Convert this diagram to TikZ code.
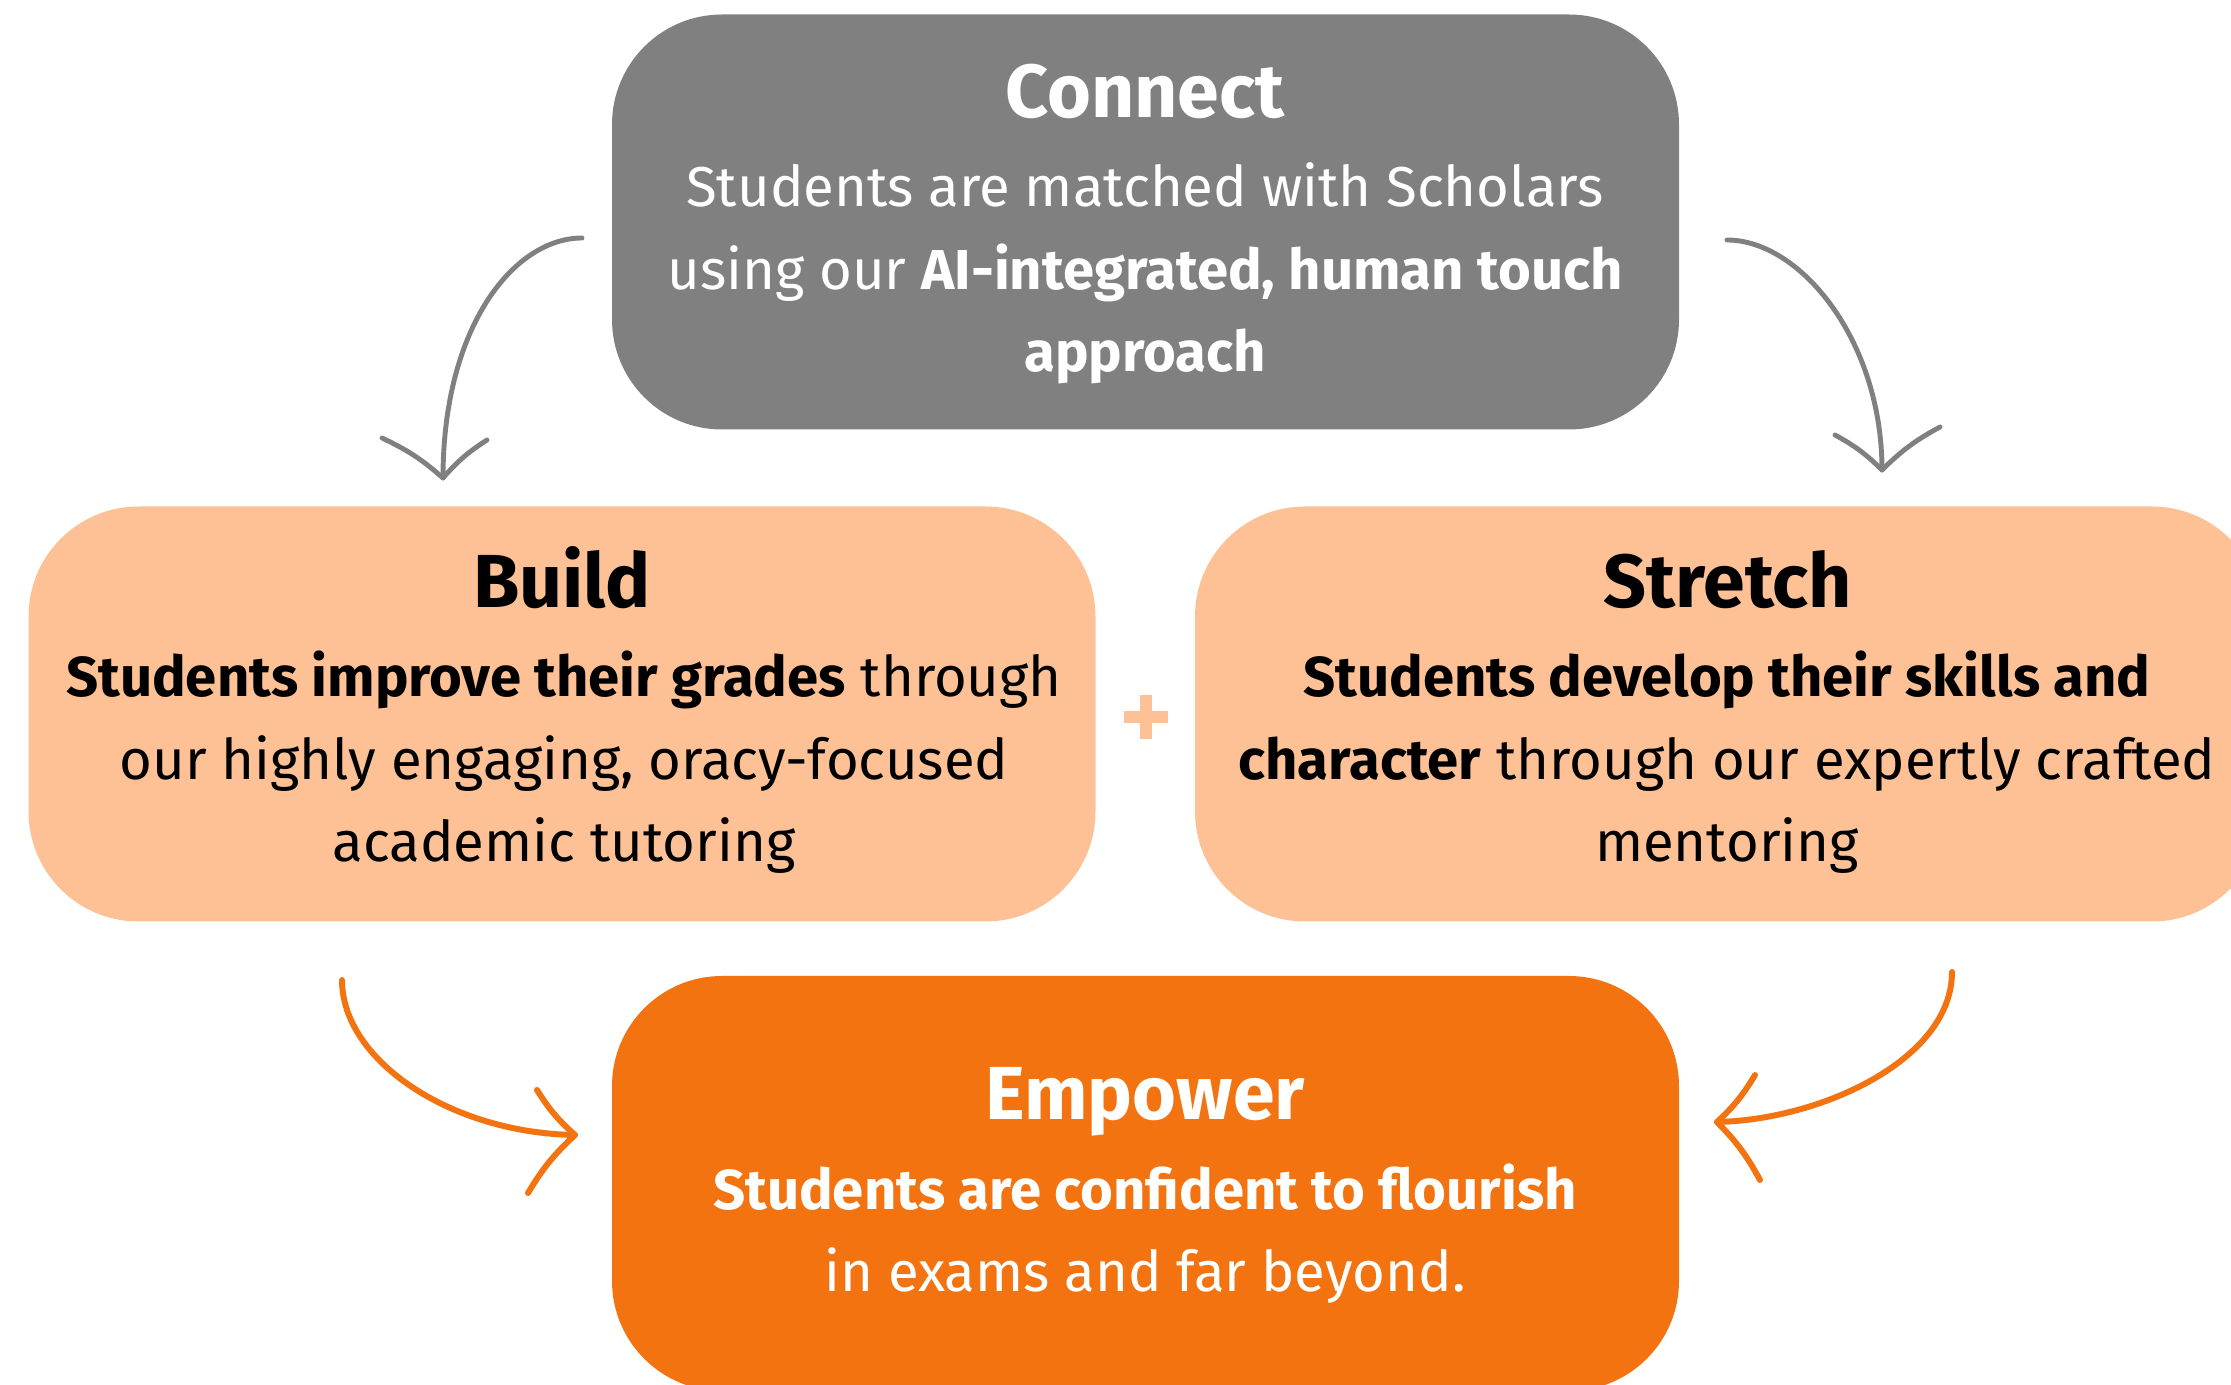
\documentclass[tikz,border=0pt]{standalone}
\usepackage{fontspec}
\setmainfont{Fira Sans}
\usepackage{xcolor}
\usetikzlibrary{positioning}
\definecolor{greybox}{HTML}{808080}
\definecolor{peach}{HTML}{FDC195}
\definecolor{orangebox}{HTML}{F37311}

\begin{document}
\begin{tikzpicture}[x=0.1mm,y=-0.1mm]
\tikzstyle{stage}=[rectangle,rounded corners=11mm,minimum width=106.7mm,minimum height=41.5mm,inner sep=0pt]
\tikzstyle{heading}=[anchor=base,inner sep=0pt,font=\fontsize{21.4}{26}\selectfont\bfseries]
\tikzstyle{blurb}=[anchor=base,inner sep=0pt,align=center,font=\fontsize{16}{23.5}\selectfont]
\tikzstyle{greyarrow}=[draw=greybox,line width=1.4pt,line cap=round,line join=round]
\tikzstyle{orangearrow}=[draw=orangebox,line width=1.7pt,line cap=round,line join=round]
\useasboundingbox (0,0) rectangle (2231,1385);

% the four stages
\node[stage,fill=greybox](connect) at (1145.5,222) {};
\node[stage,fill=peach](build) at (562,714) {};
\node[stage,fill=peach](stretch) at (1728.5,714) {};
\node[stage,fill=orangebox](empower) at (1145.5,1183.5) {};

% texts (blurb base = its last line)
\node[heading,text=white](connectT) at (1145,118) {Connect};
\node[blurb,text=white](connectB) at (1145,372) {Students are matched with Scholars\\
  using our \textbf{AI-integrated, human touch}\\ \textbf{approach}};
\node[heading](buildT) at (562,608) {Build};
\node[blurb](buildB) at (564,862) {\textbf{Students improve their grades} through\\
  our highly engaging, oracy-focused\\ academic tutoring};
\node[heading](stretchT) at (1728,608) {Stretch};
\node[blurb](stretchB) at (1727,862) {\textbf{Students develop their skills and}\\
  \textbf{character} through our expertly crafted\\ mentoring};
\node[heading,text=white](empowerT) at (1145,1120) {Empower};
\node[blurb,text=white](empowerB) at (1145,1292) {\textbf{Students are confident to flourish}\\
  in exams and far beyond.};

% plus sign
\fill[peach] (1124,711) rectangle (1168,723);
\fill[peach] (1140,695) rectangle (1152,739);

% arrows
\coordinate (g1s) at (582,238);
\coordinate (g1t) at (443,478);
\coordinate (g2s) at (1727,240);
\coordinate (g2t) at (1882,470);
\coordinate (o1s) at (342,980);
\coordinate (o1t) at (575,1135);
\coordinate (o2s) at (1952,972);
\coordinate (o2t) at (1717,1122);

\draw[greyarrow] (g1s) .. controls (515,238) and (443,325) .. (g1t);
\draw[greyarrow] ([shift={(-61,-40)}]g1t) to[bend left=8] (g1t) to[bend left=8] ([shift={(44,-38)}]g1t);
\draw[greyarrow] (g2s) .. controls (1800,240) and (1882,340) .. (g2t);
\draw[greyarrow] ([shift={(-47,-35)}]g2t) to[bend left=8] (g2t) to[bend left=8] ([shift={(58,-43)}]g2t);
\draw[orangearrow] (o1s) .. controls (342,1060) and (450,1133) .. (o1t);
\draw[orangearrow] ([shift={(-38,-45)}]o1t) to[bend right=8] (o1t) to[bend right=8] ([shift={(-47,58)}]o1t);
\draw[orangearrow] (o2s) .. controls (1952,1060) and (1820,1120) .. (o2t);
\draw[orangearrow] ([shift={(38,-47)}]o2t) to[bend left=8] (o2t) to[bend left=8] ([shift={(43,58)}]o2t);
\end{tikzpicture}
\end{document}
